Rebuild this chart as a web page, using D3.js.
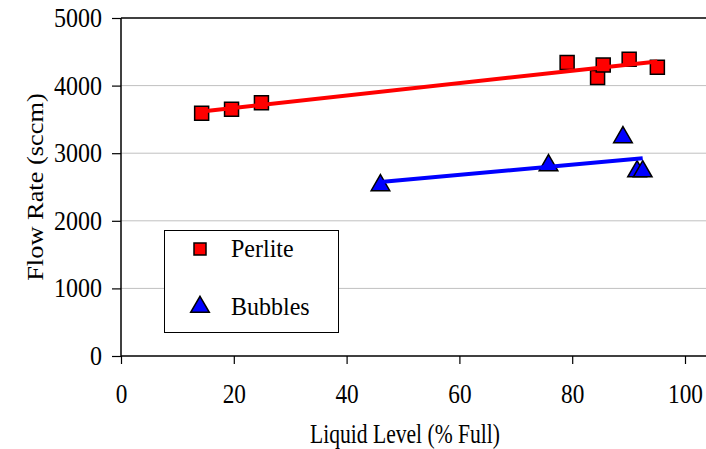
<!DOCTYPE html>
<html>
<head>
<meta charset="utf-8">
<script src="https://cdn.jsdelivr.net/npm/d3@7"></script>
<style>
  html, body { margin: 0; padding: 0; background: #fff; }
  svg { display: block; }
  text { font-family: "Liberation Serif", "Times New Roman", serif; fill: #000; }
</style>
</head>
<body>
<svg id="chart" width="706" height="449"></svg>
<script>
// ---- data ----
const perliteX = [14.3, 19.6, 24.9, 79.1, 84.5, 85.5, 90.1, 95.1];
const perliteY = [3590, 3650, 3745, 4340, 4120, 4305, 4390, 4270];
const bubblesX = [46.0, 75.8, 89.0, 91.5, 92.5];
const bubblesY = [2540, 2835, 3250, 2745, 2745];
const xTicks = [0, 20, 40, 60, 80, 100];
const yTicks = [0, 1000, 2000, 3000, 4000, 5000];
const seriesNames = ["Perlite", "Bubbles"];
const xTitle = "Liquid Level (% Full)";
const yTitle = "Flow Rate (sccm)";

const svg = d3.select("#chart");
const mLeft = 121, mRight = 685, mTop = 18, mBottom = 356;
const plotRight = 706;

const x = d3.scaleLinear().domain([0, 100]).range([mLeft, mRight]);
const y = d3.scaleLinear().domain([0, 5000]).range([mBottom, mTop]);

// gridlines
svg.append("g").selectAll("line").data(yTicks.filter(d => d > 0 && d < 5000)).join("line")
  .attr("x1", mLeft).attr("x2", plotRight)
  .attr("y1", d => y(d)).attr("y2", d => y(d))
  .attr("stroke", "#c0c0c0").attr("stroke-width", 1);

// top border
svg.append("line").attr("x1", mLeft).attr("x2", plotRight)
  .attr("y1", y(5000)).attr("y2", y(5000)).attr("stroke", "#000").attr("stroke-width", 1.5);

// axes
const xAxis = d3.axisBottom(x).tickValues(xTicks).tickSize(8).tickSizeOuter(0).tickFormat(d3.format("d"));
const gx = svg.append("g").attr("transform", `translate(0,${mBottom})`).call(xAxis);
gx.select(".domain").remove();
gx.append("line").attr("x1", mLeft).attr("x2", plotRight).attr("y1", 0).attr("y2", 0)
  .attr("stroke", "#000").attr("stroke-width", 1.5);
gx.selectAll(".tick line").attr("stroke", "#000").attr("stroke-width", 1.2);
gx.selectAll(".tick text").attr("font-size", 24).attr("y", 0).attr("dy", 0)
  .attr("transform", "translate(0,47) scale(0.97,1.14)")
  .style("font-family", '"Liberation Serif", "Times New Roman", serif').attr("fill", "#000");

const yAxis = d3.axisLeft(y).tickValues(yTicks).tickSize(9).tickSizeOuter(0).tickFormat(d3.format("d"));
const gy = svg.append("g").attr("transform", `translate(${mLeft},0)`).call(yAxis);
gy.select(".domain").remove();
gy.append("line").attr("x1", 0).attr("x2", 0).attr("y1", mTop).attr("y2", mBottom)
  .attr("stroke", "#000").attr("stroke-width", 1.5);
gy.selectAll(".tick line").attr("stroke", "#000").attr("stroke-width", 1.2);
gy.selectAll(".tick text").attr("font-size", 24).attr("x", 0).attr("dy", 0)
  .attr("transform", "translate(-19,8.5) scale(1,1.14)")
  .style("font-family", '"Liberation Serif", "Times New Roman", serif').attr("fill", "#000");

// titles
svg.append("text").attr("transform", "translate(405,443) scale(0.9,1.14)")
  .attr("text-anchor", "middle").attr("font-size", 24).text(xTitle);
svg.append("text").attr("transform", "translate(43,187) rotate(-90) scale(1.1,0.92)")
  .attr("text-anchor", "middle").attr("font-size", 24).text(yTitle);

// least-squares trendline helper
function fit(xs, ys) {
  const mx = d3.mean(xs), my = d3.mean(ys);
  let sxy = 0, sxx = 0;
  xs.forEach((v, i) => { sxy += (v - mx) * (ys[i] - my); sxx += (v - mx) ** 2; });
  const b = sxy / sxx, a = my - b * mx;
  const x0 = d3.min(xs), x1 = d3.max(xs);
  return [[x0, a + b * x0], [x1, a + b * x1]];
}

const sq = d3.symbol().type(d3.symbolSquare).size(196);
const tri = d3.symbol().type(d3.symbolTriangle).size(150);

// markers
const perlite = perliteX.map((v, i) => [v, perliteY[i]]);
const bubbles = bubblesX.map((v, i) => [v, bubblesY[i]]);

svg.append("g").selectAll("path").data(perlite).join("path")
  .attr("d", sq).attr("transform", d => `translate(${x(d[0])},${y(d[1])})`)
  .attr("fill", "#ff0000").attr("stroke", "#000").attr("stroke-width", 1.5);

svg.append("g").selectAll("path").data(bubbles).join("path")
  .attr("d", tri).attr("transform", d => `translate(${x(d[0])},${y(d[1]) + 1})`)
  .attr("fill", "#0000ff").attr("stroke", "#000").attr("stroke-width", 1.5);

// trendlines
const line = d3.line().x(d => x(d[0])).y(d => y(d[1]));
svg.append("path").attr("d", line(fit(perliteX, perliteY)))
  .attr("stroke", "#ff0000").attr("stroke-width", 4).attr("fill", "none");
svg.append("path").attr("d", line(fit(bubblesX, bubblesY)))
  .attr("stroke", "#0000ff").attr("stroke-width", 4).attr("fill", "none");

// legend
const lg = svg.append("g");
lg.append("rect").attr("x", 164.5).attr("y", 230.5).attr("width", 174).attr("height", 102)
  .attr("fill", "#fff").attr("stroke", "#000").attr("stroke-width", 1);
lg.append("path").attr("d", d3.symbol().type(d3.symbolSquare).size(144))
  .attr("transform", "translate(200,249)").attr("fill", "#ff0000").attr("stroke", "#000").attr("stroke-width", 1.5);
lg.append("path").attr("d", tri)
  .attr("transform", "translate(200,307)").attr("fill", "#0000ff").attr("stroke", "#000").attr("stroke-width", 1.5);
lg.append("text").attr("transform", "translate(231,257) scale(1,1.08)").attr("font-size", 24).text(seriesNames[0]);
lg.append("text").attr("transform", "translate(231,315) scale(1,1.08)").attr("font-size", 24).text(seriesNames[1]);
</script>
</body>
</html>
